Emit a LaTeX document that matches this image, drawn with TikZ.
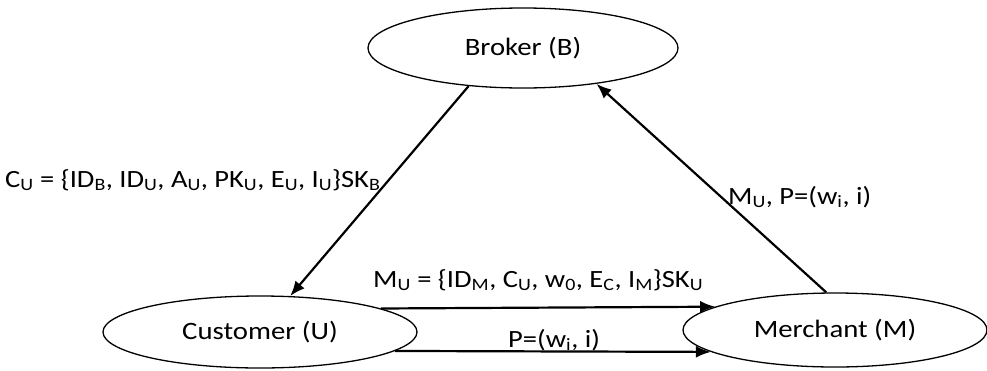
\documentclass[tikz,border=0pt]{standalone}
\usepackage{fontspec}
\setmainfont{Carlito}[FakeStretch=1.15]
\usetikzlibrary{shapes.geometric,arrows.meta}
\newcommand{\sbs}[1]{\textsubscript{#1}}
\begin{document}
\begin{tikzpicture}[x=1pt,y=-1pt,
  party/.style={draw,ellipse,line width=1.3pt,inner sep=0pt,font=\fontsize{25}{29}\selectfont},
  msg/.style={draw,line width=2.2pt,-{Latex[length=15pt,width=12pt]}},
  lbl/.style={inner sep=0pt,font=\fontsize{24.8}{28}\selectfont}]
\useasboundingbox (0,0) rectangle (987,370);
\node[party,minimum width=310pt,minimum height=80pt] (B) at (523,48) {Broker (B)};
\node[party,minimum width=314pt,minimum height=72pt] (U) at (260,332) {Customer (U)};
\node[party,minimum width=304pt,minimum height=74pt] (M) at (835,330) {Merchant (M)};
\draw[msg] (B.215.5) -- (U.50);
\draw[msg] (M.103) -- (B.334);
\draw[msg] (U.11.6) -- (M.169.8);
\draw[msg] (U.-8.7) -- (M.190.2);
\node[lbl,anchor=west] (l1) at (5,180) {C\sbs{U} = \{ID\sbs{B}, ID\sbs{U}, A\sbs{U}, PK\sbs{U}, E\sbs{U}, I\sbs{U}\}SK\sbs{B}};
\node[lbl,anchor=west] (l2) at (728,197) {M\sbs{U}, P=(w\sbs{i}, i)};
\node[lbl,anchor=west] (l3) at (373,280) {M\sbs{U} = \{ID\sbs{M}, C\sbs{U}, w\sbs{0}, E\sbs{C}, I\sbs{M}\}SK\sbs{U}};
\node[lbl,anchor=west] (l4) at (508,340) {P=(w\sbs{i}, i)};
\end{tikzpicture}
\end{document}
